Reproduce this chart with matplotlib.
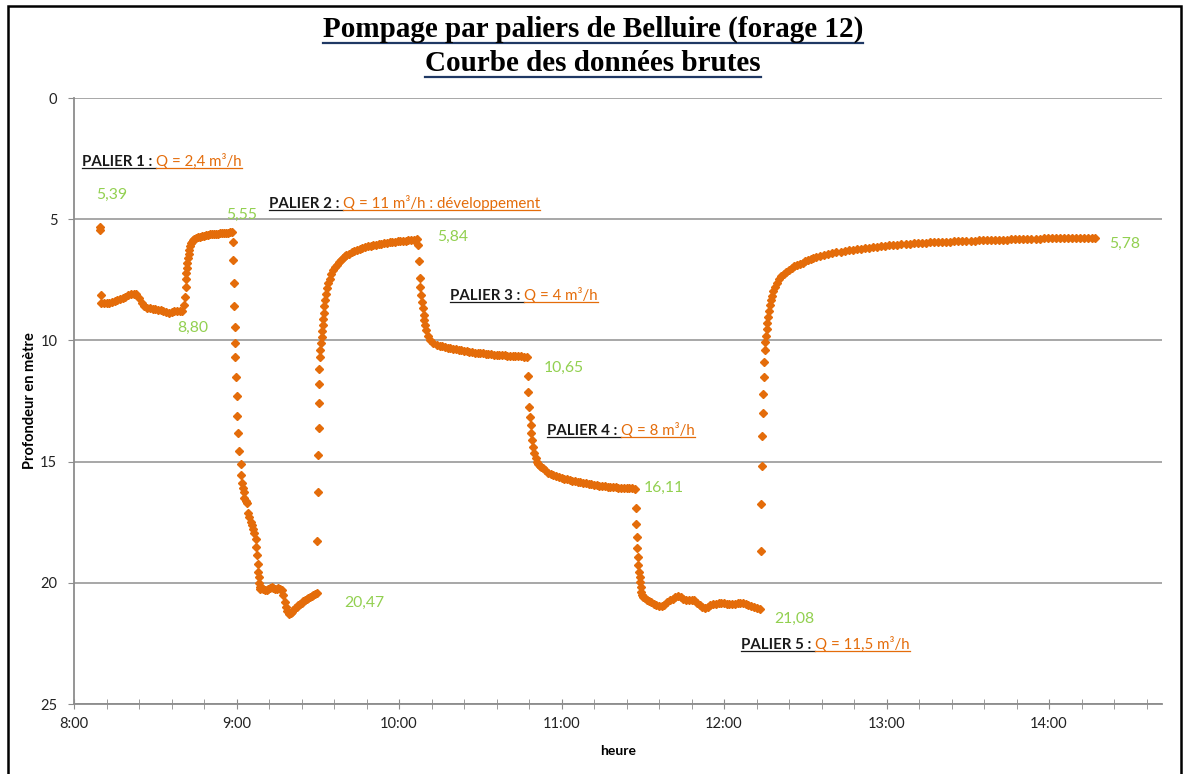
import matplotlib
matplotlib.use('Agg')
import matplotlib.pyplot as plt
from matplotlib.ticker import MultipleLocator, FuncFormatter
from matplotlib.lines import Line2D
from matplotlib.patches import Rectangle

plt.rcParams['font.family'] = ['Lato', 'DejaVu Sans']

# time in minutes after 8:00, depth in m below ground
p1_min = [9.6, 9.6, 9.8, 10.0, 11, 12, 13, 14, 15, 16, 17, 18, 19, 20, 21, 22, 23,
          24, 25, 26, 27, 28, 29, 30, 31, 32, 33, 34, 35, 36, 37, 38, 39, 40]
p1_depth = [5.33, 5.45, 8.13, 8.46, 8.47, 8.47, 8.45, 8.42, 8.39, 8.35, 8.31, 8.25,
            8.19, 8.13, 8.09, 8.08, 8.10, 8.25, 8.45, 8.58, 8.65, 8.68, 8.70, 8.72,
            8.73, 8.75, 8.77, 8.83, 8.85, 8.82, 8.80, 8.79, 8.78, 8.80]

r1_min = [40.6, 41.0, 41.2, 41.4, 41.5, 41.7, 41.9, 42.1, 42.3, 42.5, 42.8, 43.2,
          43.5, 43.9, 44.4, 45.0, 45.8, 46.5, 47.2, 48.0, 48.8, 49.5, 50.3, 51.0,
          51.8, 52.5, 53.3, 54.0, 54.8, 55.5, 56.3, 57.0, 57.7, 58.3]
r1_depth = [8.54, 8.20, 7.78, 7.47, 7.23, 7.00, 6.80, 6.60, 6.43, 6.27, 6.12, 6.00,
            5.93, 5.86, 5.82, 5.78, 5.75, 5.72, 5.70, 5.68, 5.66, 5.64, 5.63, 5.62,
            5.61, 5.60, 5.59, 5.58, 5.58, 5.57, 5.56, 5.55, 5.54, 5.52]

p2_min = [58.7, 58.8, 58.9, 59.1, 59.3, 59.4, 59.6, 59.8, 60.0, 60.2, 60.5, 61.0,
          61.5, 61.8, 62.1, 62.3, 62.6, 62.9, 63.4, 63.8, 64.4, 64.7, 65.2, 65.7,
          66.2, 66.6, 67.1, 67.3, 67.6, 67.8, 68.0, 68.2, 68.3, 68.5, 68.7, 69.3,
          69.9, 70.5, 71.1, 71.7, 72.4, 73.0, 73.6, 74.2, 74.8, 75.4, 76.0, 76.7,
          77.3, 77.9, 78.3, 78.8, 79.5, 80.0, 80.4, 81.0, 81.6, 82.2, 82.8, 83.5,
          84.1, 84.7, 85.3, 85.9, 86.5, 87.2, 87.8, 88.4, 89.0, 89.6]
p2_depth = [5.94, 6.68, 7.65, 8.58, 9.45, 10.10, 10.70, 11.50, 12.30, 13.10, 13.80,
            14.56, 15.10, 15.55, 15.87, 16.10, 16.24, 16.51, 16.61, 16.72, 17.11,
            17.30, 17.48, 17.62, 17.79, 17.96, 18.21, 18.54, 18.85, 19.22, 19.54,
            19.77, 20.02, 20.16, 20.25, 20.23, 20.27, 20.30, 20.28, 20.27, 20.22,
            20.19, 20.23, 20.26, 20.25, 20.23, 20.26, 20.30, 20.50, 20.78, 20.98,
            21.15, 21.29, 21.25, 21.19, 21.12, 21.05, 20.98, 20.92, 20.87, 20.82,
            20.76, 20.71, 20.66, 20.61, 20.57, 20.53, 20.50, 20.46, 20.43]

r2_min = [89.8, 90.0, 90.1, 90.3, 90.4, 90.5, 90.6, 90.8, 91.0, 91.2, 91.4, 91.6,
          91.8, 92.0, 92.2, 92.4, 92.7, 93.1, 93.5, 93.9, 94.4, 95.0, 95.7, 96.4,
          97.1, 97.8, 98.5, 99.2, 99.9, 100.5, 101.5, 102.5, 103.5, 104.5, 105.5,
          106.5, 107.5, 108.5, 109.5, 110.5, 111.5, 112.5, 113.5, 114.5, 115.5,
          116.5, 117.5, 118.5, 119.5, 120.5, 121.5, 122.5, 123.5, 124.5, 125.5, 126.5]
r2_depth = [18.28, 16.27, 14.71, 13.60, 12.60, 11.80, 11.20, 10.70, 10.40, 10.10,
            9.85, 9.60, 9.35, 9.10, 8.85, 8.60, 8.35, 8.10, 7.85, 7.65, 7.45, 7.28,
            7.10, 6.98, 6.87, 6.77, 6.68, 6.60, 6.53, 6.49, 6.43, 6.37, 6.32, 6.27,
            6.22, 6.18, 6.15, 6.12, 6.09, 6.07, 6.05, 6.03, 6.01, 5.99, 5.97, 5.96,
            5.94, 5.93, 5.91, 5.90, 5.89, 5.88, 5.86, 5.85, 5.84, 5.83]

p3_min = [127.1, 127.3, 127.7, 127.9, 128.3, 128.6, 128.8, 129.1, 129.3, 129.6,
          130.0, 130.6, 131.4, 132.7, 134, 135, 136, 137, 138, 139, 140, 141, 142,
          143, 144, 145, 146, 147, 148, 149, 150, 151, 152, 153, 154, 155, 156, 157,
          158, 159, 160, 161, 162, 163, 164, 165, 166, 167.2]
p3_depth = [6.06, 6.72, 7.43, 7.78, 8.13, 8.40, 8.68, 8.95, 9.16, 9.37, 9.57, 9.82,
            9.98, 10.12, 10.18, 10.22, 10.25, 10.28, 10.31, 10.33, 10.35, 10.37,
            10.39, 10.40, 10.42, 10.44, 10.46, 10.48, 10.50, 10.51, 10.53, 10.54,
            10.56, 10.57, 10.58, 10.59, 10.60, 10.60, 10.61, 10.62, 10.63, 10.63,
            10.64, 10.65, 10.66, 10.66, 10.67, 10.67]

p4_min = [167.6, 167.8, 168.0, 168.3, 168.6, 168.9, 169.2, 169.6, 170.0, 170.4,
          170.8, 171.4, 172.0, 172.6, 173.2, 174, 175, 176, 177, 178, 179, 180, 181,
          182, 183, 184, 185, 186, 187, 188, 189, 190, 191, 192, 193, 194, 195, 196,
          197, 198, 199, 200, 201, 202, 203, 204, 205, 206, 207.1]
p4_depth = [11.47, 12.11, 12.73, 13.15, 13.49, 13.82, 14.10, 14.38, 14.66, 14.85,
            15.00, 15.10, 15.17, 15.22, 15.27, 15.36, 15.45, 15.51, 15.55, 15.59,
            15.63, 15.66, 15.70, 15.73, 15.75, 15.78, 15.80, 15.83, 15.85, 15.87,
            15.89, 15.91, 15.93, 15.95, 15.97, 16.00, 16.01, 16.02, 16.03, 16.04,
            16.05, 16.06, 16.07, 16.07, 16.08, 16.08, 16.09, 16.10, 16.11]

p5_min = [207.4, 207.6, 207.8, 208.0, 208.2, 208.4, 208.6, 208.8, 209.0, 209.2,
          209.5, 209.8, 210.2, 210.8, 211.5, 212.2, 213, 214, 215, 216, 217, 218,
          219, 220, 221, 222, 223, 224, 225, 226, 227, 228, 229, 230, 231, 232, 233,
          234, 235, 236, 237, 238, 239, 240, 241, 242, 243, 244, 245, 246, 247, 248,
          249, 250, 251, 252, 253.3]
p5_depth = [16.93, 17.57, 18.12, 18.58, 18.92, 19.27, 19.54, 19.75, 19.95, 20.16,
            20.37, 20.50, 20.57, 20.64, 20.70, 20.75, 20.80, 20.86, 20.90, 20.94,
            20.95, 20.90, 20.80, 20.72, 20.66, 20.60, 20.56, 20.60, 20.66, 20.72,
            20.73, 20.70, 20.72, 20.82, 20.93, 21.00, 21.02, 20.98, 20.93, 20.89,
            20.86, 20.84, 20.84, 20.85, 20.86, 20.87, 20.87, 20.86, 20.85, 20.85,
            20.85, 20.86, 20.90, 20.95, 20.98, 21.03, 21.08]

r5_min = [253.5, 253.7, 253.9, 254.1, 254.3, 254.5, 254.7, 254.9, 255.1, 255.3,
          255.5, 255.7, 255.9, 256.2, 256.5, 256.9, 257.3, 257.7, 258.2, 258.8,
          259.5, 260.3, 261.2, 262, 263, 264, 265, 266, 267, 268, 269, 270, 271,
          272, 273, 274, 275.5, 277, 278.5, 280, 281.5, 283, 284.5, 286, 287.5, 289,
          290.5, 292, 293.5, 295, 296.5, 298, 299.5, 301, 302.5, 304, 305.5, 307,
          308.5, 310, 311.5, 313, 314.5, 316, 317.5, 319, 320.5, 322, 323.5, 325,
          326.5, 328, 329.5, 331, 332.5, 334, 335.5, 337, 338.5, 340, 341.5, 343,
          344.5, 346, 347.5, 349, 350.5, 352, 353.5, 355, 356.5, 358, 359.5, 361,
          362.5, 364, 365.5, 367, 368.5, 370, 371.5, 373, 374.5, 376, 377]
r5_depth = [18.68, 16.76, 15.20, 13.94, 12.98, 12.20, 11.50, 10.90, 10.40, 10.05,
            9.80, 9.55, 9.30, 9.05, 8.80, 8.55, 8.35, 8.15, 7.95, 7.78, 7.62, 7.48,
            7.36, 7.26, 7.18, 7.10, 7.02, 6.95, 6.89, 6.84, 6.79, 6.74, 6.69, 6.65,
            6.60, 6.56, 6.52, 6.47, 6.43, 6.40, 6.37, 6.34, 6.31, 6.28, 6.26, 6.24,
            6.21, 6.19, 6.17, 6.15, 6.13, 6.11, 6.10, 6.08, 6.07, 6.05, 6.04, 6.03,
            6.02, 6.00, 5.99, 5.98, 5.97, 5.96, 5.95, 5.94, 5.93, 5.92, 5.92, 5.91,
            5.90, 5.90, 5.89, 5.88, 5.88, 5.87, 5.87, 5.86, 5.86, 5.85, 5.85, 5.84,
            5.84, 5.83, 5.83, 5.82, 5.82, 5.81, 5.80, 5.80, 5.80, 5.79, 5.79, 5.78,
            5.78, 5.77, 5.77, 5.76, 5.76, 5.76, 5.76, 5.76, 5.76, 5.76, 5.76]

# step labels: (text, flow, hour, depth of baseline)
paliers = [
    ('PALIER 1 : ', 'Q = 2,4 m\u00b3/h', 8.049, 2.80),
    ('PALIER 2 : ', 'Q = 11 m\u00b3/h : d\u00e9veloppement', 9.200, 4.54),
    ('PALIER 3 : ', 'Q = 4 m\u00b3/h', 10.314, 8.33),
    ('PALIER 4 : ', 'Q = 8 m\u00b3/h', 10.911, 13.90),
    ('PALIER 5 : ', 'Q = 11,5 m\u00b3/h', 12.105, 22.73),
]
# end-of-step values: (text, hour, depth)
values = [
    ('5,39', 8.135, 4.00), ('8,80', 8.634, 9.49), ('5,55', 8.935, 4.83),
    ('20,47', 9.662, 20.83), ('5,84', 10.234, 5.73), ('10,65', 10.892, 11.14),
    ('16,11', 11.508, 16.09), ('21,08', 12.308, 21.49), ('5,78', 14.37, 6.02),
]

ORANGE = '#E46C0A'
GREEN = '#92D050'
GRID = '#A0A0A0'

W, H = 1186, 774
fig = plt.figure(figsize=(W / 100, H / 100), dpi=100)
ax = fig.add_axes([74 / W, 1 - 704 / H, (1162 - 74) / W, (704 - 98) / H])

mins = p1_min + r1_min + p2_min + r2_min + p3_min + p4_min + p5_min + r5_min
depth = p1_depth + r1_depth + p2_depth + r2_depth + p3_depth + p4_depth + p5_depth + r5_depth
hours = [8 + m / 60 for m in mins]
ax.plot(hours, depth, ls='none', marker='D', ms=4.2, color=ORANGE, mec=ORANGE, zorder=3)

ax.set_xlim(8, 14.695)
ax.set_ylim(25, 0)
ax.yaxis.set_major_locator(MultipleLocator(5))
ax.xaxis.set_major_locator(MultipleLocator(1))
ax.xaxis.set_minor_locator(MultipleLocator(0.2))


def hhmm(v, pos):
    m = int(round(v * 60))
    return f'{m // 60}:{m % 60:02d}'


ax.xaxis.set_major_formatter(FuncFormatter(hhmm))
ax.grid(axis='y', color=GRID, lw=1.3)
ax.set_axisbelow(True)
for s in ['top', 'right']:
    ax.spines[s].set_visible(False)
for s in ['left', 'bottom']:
    ax.spines[s].set_color('#8C8C8C')
    ax.spines[s].set_linewidth(1.3)
ax.tick_params(axis='x', which='both', direction='inout', length=7, color='#8C8C8C',
               labelsize=10.5, pad=6, labelcolor='#222222')
ax.tick_params(axis='y', direction='out', length=4, color='#8C8C8C', labelsize=10.5,
               pad=8, labelcolor='#222222')
ax.set_xlabel('heure', fontsize=10, fontweight='bold', labelpad=10)
ax.set_ylabel('Profondeur en m\u00e8tre', fontsize=10.5, fontweight='bold', labelpad=2)

t1 = fig.text(0.5, 1 - 37 / H, 'Pompage par paliers de Belluire (forage 12)', ha='center',
              va='baseline', fontsize=21, fontweight='bold', family='Liberation Serif')
t2 = fig.text(0.5, 1 - 71 / H, 'Courbe des donn\u00e9es brutes', ha='center',
              va='baseline', fontsize=21, fontweight='bold', family='Liberation Serif')

for txt, x, y in values:
    ax.text(x, y, txt, color=GREEN, fontsize=11.3, va='center', ha='left')

heads = []
for head, flow, x, y in paliers:
    a = ax.text(x, y, head, color='#1A1A1A', fontsize=10.8, fontweight='bold', va='baseline')
    b = ax.annotate(flow, xy=(1, 0), xycoords=a, color=ORANGE, fontsize=10.8,
                    va='bottom', ha='left')
    heads.append((a, b, y))

fig.canvas.draw()
inv = fig.transFigure.inverted()


def underline(bb, ybase, color, lw):
    (x0, yy), (x1, _) = inv.transform([(bb.x0, ybase), (bb.x1, ybase)])
    fig.add_artist(Line2D([x0, x1], [yy, yy], color=color, lw=lw))


for a, b, y in heads:
    ybase = ax.transData.transform((8, y))[1] - 2
    underline(a.get_window_extent(), ybase, '#1A1A1A', 0.9)
    underline(b.get_window_extent(), ybase, ORANGE, 0.9)

for t, yb in [(t1, 37), (t2, 71)]:
    underline(t.get_window_extent(), H - yb - 6, '#1F3864', 1.6)

fig.add_artist(Rectangle((8 / W, -0.01), (1181 - 8) / W, 1 - 6 / H + 0.01,
                         transform=fig.transFigure, fill=False, ec='black', lw=1.8))

fig.savefig('out.png', dpi=100)
